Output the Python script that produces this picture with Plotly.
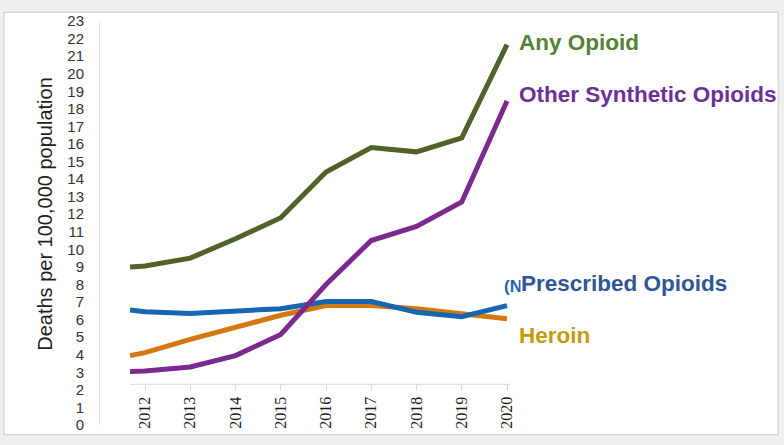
import plotly.graph_objects as go

# ---- data ----
years = [2011.67, 2012, 2013, 2014, 2015, 2016, 2017, 2018, 2019, 2020]
tick_years = [2012, 2013, 2014, 2015, 2016, 2017, 2018, 2019, 2020]
tick_labels = [str(y) for y in tick_years]

any_opioid = [9.0, 9.05, 9.5, 10.6, 11.8, 14.4, 15.8, 15.55, 16.35, 21.65]
other_synthetic = [3.05, 3.07, 3.3, 3.95, 5.15, 8.0, 10.5, 11.3, 12.7, 18.45]
prescribed = [6.55, 6.45, 6.35, 6.52, 6.62, 7.03, 7.03, 6.42, 6.17, 6.8]
heroin = [3.95, 4.12, 4.87, 5.57, 6.25, 6.8, 6.8, 6.62, 6.33, 6.05]

y_ticks = list(range(0, 24))

# ---- layout helpers (pixel -> paper) ----
W, H = 784, 445
L, R, T, B = 100, 267, 13, 15
PW, PH = W - L - R, H - T - B


def px(x):
    return (x - L) / PW


def py(y):
    return (H - B - y) / PH


fig = go.Figure()

series = [
    ("Heroin", heroin, "#d4770e"),
    ("Prescribed Opioids", prescribed, "#1766b2"),
    ("Other Synthetic Opioids", other_synthetic, "#7a2a8f"),
    ("Any Opioid", any_opioid, "#4f6228"),
]
for name, vals, col in series:
    fig.add_trace(go.Scatter(x=years, y=vals, mode="lines", name=name,
                             line=dict(color=col, width=5), hoverinfo="skip"))

labels = [
    ("Any Opioid", 518, 35, "#538135"),
    ("Other Synthetic Opioids", 518, 89, "#6c2f98"),
    ("Prescribed Opioids", 520, 283.5, "#2f5597"),
    ("Heroin", 518, 338, "#c49a0a"),
]
annotations = [dict(text="<b>(N</b>", x=px(502), y=py(287), xref="paper", yref="paper",
                    xanchor="left", yanchor="middle", showarrow=False,
                    font=dict(family="Liberation Sans", size=17, color="#1766b2"))]
for txt, x, y, col in labels:
    annotations.append(dict(text=f"<b>{txt}</b>", x=px(x), y=py(y), xref="paper", yref="paper",
                            xanchor="left", yanchor="middle", showarrow=False,
                            bgcolor="white", borderpad=0,
                            font=dict(family="Liberation Sans", size=22.5, color=col)))
annotations.append(dict(text="Deaths per 100,000 population", textangle=-90,
                        x=px(45), y=py(212), xref="paper", yref="paper",
                        xanchor="center", yanchor="middle", showarrow=False,
                        font=dict(family="Liberation Sans", size=20, color="#1f1f1f")))

shapes = [
    dict(type="rect", xref="paper", yref="paper", x0=px(4), x1=px(778), y0=py(440), y1=py(4),
         fillcolor="white", line=dict(color="#c8c8c8", width=1), layer="below"),
    dict(type="line", xref="x", yref="paper", x0=years[0], x1=2020.07, y0=py(388), y1=py(388),
         line=dict(color="#d9d9d9", width=1), layer="below"),
]

fig.update_layout(
    width=W, height=H,
    margin=dict(l=L, r=R, t=T, b=B),
    paper_bgcolor="#efefef",
    plot_bgcolor="rgba(0,0,0,0)",
    showlegend=False,
    annotations=annotations,
    shapes=shapes,
    xaxis=dict(range=[2011.0055, 2020.221], tickvals=tick_years, ticktext=tick_labels,
               tickangle=-90, ticks="outside", ticklen=5, tickcolor="#d9d9d9",
               showgrid=False, zeroline=False, showline=False,
               anchor="free", position=py(388),
               tickfont=dict(family="Liberation Sans Narrow", size=16, color="#1a1a1a")),
    yaxis=dict(range=[0, 23], tickvals=y_ticks, showgrid=False, zeroline=False,
               showline=True, linecolor="#e3e3e3", ticks="", ticklabelstandoff=12,
               tickfont=dict(family="Liberation Sans", size=15, color="#333333")),
)

fig.write_html("out.html")
